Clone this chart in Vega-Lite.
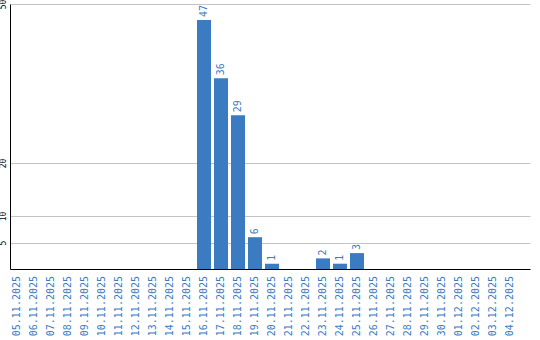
{
  "$schema": "https://vega.github.io/schema/vega-lite/v6.json",
  "autosize": {"type": "none"},
  "padding": {"left": 10, "top": 4, "right": 10, "bottom": 71},
  "width": 520,
  "height": 265,
  "background": "white",
  "config": {"view": {"stroke": null}},
  "data": {
    "values": [
      {"d": "05.11.2025", "v": 0},
      {"d": "06.11.2025", "v": 0},
      {"d": "07.11.2025", "v": 0},
      {"d": "08.11.2025", "v": 0},
      {"d": "09.11.2025", "v": 0},
      {"d": "10.11.2025", "v": 0},
      {"d": "11.11.2025", "v": 0},
      {"d": "12.11.2025", "v": 0},
      {"d": "13.11.2025", "v": 0},
      {"d": "14.11.2025", "v": 0},
      {"d": "15.11.2025", "v": 0},
      {"d": "16.11.2025", "v": 47},
      {"d": "17.11.2025", "v": 36},
      {"d": "18.11.2025", "v": 29},
      {"d": "19.11.2025", "v": 6},
      {"d": "20.11.2025", "v": 1},
      {"d": "21.11.2025", "v": 0},
      {"d": "22.11.2025", "v": 0},
      {"d": "23.11.2025", "v": 2},
      {"d": "24.11.2025", "v": 1},
      {"d": "25.11.2025", "v": 3},
      {"d": "26.11.2025", "v": 0},
      {"d": "27.11.2025", "v": 0},
      {"d": "28.11.2025", "v": 0},
      {"d": "29.11.2025", "v": 0},
      {"d": "30.11.2025", "v": 0},
      {"d": "01.12.2025", "v": 0},
      {"d": "02.12.2025", "v": 0},
      {"d": "03.12.2025", "v": 0},
      {"d": "04.12.2025", "v": 0}
    ]
  },
  "encoding": {
    "x": {
      "field": "d",
      "type": "ordinal",
      "sort": null,
      "scale": {"paddingInner": 0.1765, "paddingOuter": 0.382, "align": 0},
      "axis": {
        "title": null,
        "labelAngle": -90,
        "labelFont": "DejaVu Sans Mono",
        "labelFontSize": 10,
        "labelColor": "#3b7bc2",
        "labelPadding": 6.5,
        "ticks": false,
        "tickSize": 0,
        "domainColor": "black",
        "domainWidth": 1,
        "grid": false,
        "labelOverlap": false
      }
    },
    "y": {
      "field": "v",
      "type": "quantitative",
      "scale": {"domain": [0, 50], "nice": false},
      "axis": {
        "title": null,
        "values": [5, 10, 20, 50],
        "labelAngle": -90,
        "labelAlign": "center",
        "labelBaseline": "bottom",
        "labelFont": "DejaVu Sans Mono",
        "labelFontSize": 8,
        "labelColor": "black",
        "labelPadding": 3,
        "ticks": false,
        "tickSize": 0,
        "domainColor": "black",
        "domainWidth": 1,
        "grid": true,
        "gridColor": "#c4c4c4",
        "gridWidth": 1
      }
    }
  },
  "layer": [
    {"mark": {"type": "bar", "color": "#3b7bc2"}},
    {
      "transform": [{"filter": "datum.v > 0"}],
      "mark": {
        "type": "text",
        "angle": -90,
        "align": "left",
        "baseline": "middle",
        "dx": 3,
        "font": "DejaVu Sans Mono",
        "fontSize": 10,
        "color": "#3b7bc2"
      },
      "encoding": {"text": {"field": "v", "type": "quantitative"}}
    }
  ]
}
